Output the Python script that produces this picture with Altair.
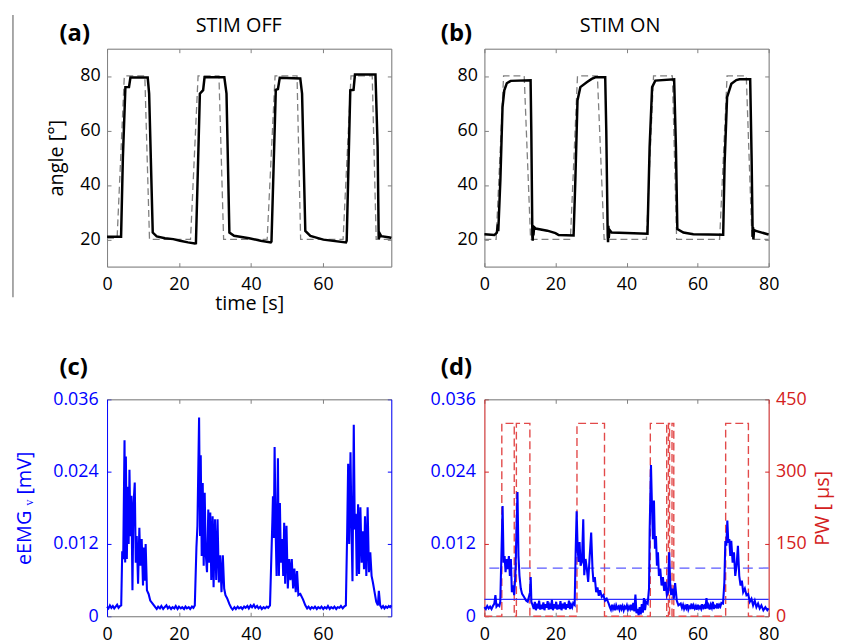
import altair as alt
import pandas as pd

FONT = "Open Sans"
GRAY = "#808080"
BLUE = "#0000ff"
RED = "#d42020"
PWRED = "#e24a4a"

# ---------------- (a) STIM OFF : joint angle ----------------
A_T = [0, 3.9, 4.4, 5.1, 6.1, 6.5, 11.3, 11.7, 12.7, 13.8, 16.1, 18.4, 20.3, 22.5, 24.4, 24.7,
       25.8, 26.7, 27.1, 32.6, 33.2, 34.0, 35.3, 39.5, 42.7, 45.5, 45.7, 46.9, 47.5, 48.0,
       53.7, 54.2, 55.1, 56.5, 60.1, 66.4, 66.6, 67.6, 68.5, 68.9, 74.6, 75.2, 75.5, 75.9,
       76.2, 78.6, 79.0]
A_ANG = [21.0, 21.0, 50.0, 75.9, 75.9, 79.4, 79.4, 73.5, 22.5, 21.1, 20.4, 20.1, 19.5, 18.9, 18.5, 18.6,
         73.5, 74.8, 79.5, 79.5, 73.5, 22.5, 21.3, 20.4, 19.5, 18.9, 19.2, 74.9, 75.2, 79.3,
         79.1, 73.5, 23.1, 21.3, 19.9, 18.9, 19.5, 74.7, 74.9, 80.5, 80.5, 54.0, 20.1, 21.9,
         21.2, 20.7, 20.5]
A_REF_T = [0, 2.8, 4.8, 10.5, 11.8, 23.2, 25.3, 31.1, 32.4, 44.5, 46.7, 52.8, 53.8, 65.6, 67.8,
           73.7, 74.8, 79.0]
A_REF = [20.5, 20.5, 80, 80, 20, 20, 80, 80, 20, 20, 80, 80, 20, 20, 80, 80, 20, 20]

# ---------------- (b) STIM ON : joint angle ----------------
B_T = [0, 2.8, 3.5, 3.8, 3.9, 4.0, 4.5, 5.1, 5.6, 6.3, 7.4, 13.0, 13.2, 13.5, 13.6, 13.7, 13.8,
       14.0, 14.4, 17.7, 20.0, 20.9, 25.1, 25.6, 26.2, 27.0, 28.8, 30.2, 31.2, 34.0, 34.3, 34.7,
       34.8, 34.9, 35.0, 35.2, 35.8, 40.0, 45.9, 46.5, 47.2, 48.1, 53.4, 53.9, 54.3, 56.0, 58.8,
       67.2, 67.6, 68.3, 69.5, 70.9, 71.8, 74.8, 75.2, 75.5, 75.6, 75.7, 75.9, 76.4, 79.7, 80.0]
B_ANG = [21.9, 21.6, 22.5, 25.5, 23.0, 26.0, 42.0, 68.6, 74.7, 77.3, 78.2, 78.4, 60.0, 21.0, 19.5,
         25.0, 21.5, 24.5, 24.0, 23.2, 22.3, 21.6, 21.4, 42.0, 71.0, 75.9, 77.7, 78.9, 79.5, 79.5,
         60.0, 21.5, 19.0, 25.0, 20.5, 23.5, 22.5, 22.3, 22.1, 54.0, 75.9, 78.3, 78.8, 54.0, 23.8,
         22.5, 21.9, 21.7, 48.0, 72.2, 77.1, 78.5, 78.8, 78.8, 50.0, 21.0, 24.5, 20.0, 23.5, 23.1,
         21.9, 21.8]
B_REF_T = [0, 3.3, 5.4, 11.2, 13.0, 24.2, 26.2, 31.8, 33.7, 45.6, 47.6, 52.9, 54.1, 66.2, 68.3,
           73.7, 75.3, 80.0]
B_REF = [20, 20, 80, 80, 20, 20, 80, 80, 20, 20, 80, 80, 20, 20, 80, 80, 20, 20]

# ---------------- (c) STIM OFF : eEMG_v ----------------
C_T = [0, 0.4, 0.8, 1.2, 1.6, 2.0, 2.4, 2.8, 3.2, 3.6, 3.94,
       4.22, 4.49, 4.86, 5.04, 5.23, 5.50, 5.78, 6.0, 6.23, 6.51, 6.78, 7.06, 7.33, 7.70, 7.98,
       8.25, 8.62, 8.98, 9.26, 9.63, 9.99, 10.18, 10.45, 10.73, 11.09, 11.55, 12.01, 12.93,
       13.4, 13.8, 14.2, 14.7, 15.1, 15.6, 16.0, 16.5, 16.9, 17.3, 17.8, 18.2, 18.7, 19.1, 19.6,
       20.0, 20.5, 20.9, 21.4, 21.8, 22.2, 22.7, 23.1, 23.6, 24.0, 24.39,
       24.84, 25.12, 25.58, 25.85, 26.04, 26.31, 26.59, 26.86, 27.14, 27.41, 27.78, 28.14, 28.42,
       28.69, 28.97, 29.34, 29.61, 29.98, 30.34, 30.71, 31.08, 31.44, 31.81, 32.18, 32.55, 32.91,
       33.37, 34.01,
       34.5, 34.9, 35.4, 35.8, 36.3, 36.7, 37.2, 37.6, 38.1, 38.5, 39.0, 39.4, 39.9, 40.3, 40.8,
       41.2, 41.7, 42.1, 42.6, 43.0, 43.5, 43.9, 44.4, 44.8, 45.29,
       45.93, 46.11, 46.35, 46.57, 46.85, 47.12, 47.49, 47.76, 48.04, 48.31, 48.68, 48.96, 49.23,
       49.50, 49.87, 50.24, 50.61, 50.97, 51.34, 51.71, 52.07, 52.44, 52.81, 53.17, 53.72, 54.46,
       55.10,
       55.6, 56.0, 56.5, 56.9, 57.4, 57.8, 58.3, 58.7, 59.2, 59.6, 60.1, 60.5, 61.0, 61.4, 61.9,
       62.3, 62.8, 63.2, 63.7, 64.1, 64.6, 65.0, 65.5, 65.9, 66.37,
       66.74, 67.01, 67.29, 67.66, 67.93, 68.21, 68.57, 68.85, 69.12, 69.40, 69.77, 70.04, 70.41,
       70.77, 71.14, 71.42, 71.69, 72.06, 72.42, 72.79, 73.16, 73.52, 73.89, 74.35, 74.81, 75.27,
       75.54, 75.91, 76.3, 76.7, 77.1, 77.5, 77.9, 78.3, 78.66, 79.0]
C_EMG = [0.0016, 0.0013, 0.0018, 0.0014, 0.0017, 0.0013, 0.0016, 0.0019, 0.0014, 0.0017, 0.0018,
         0.0108, 0.0095, 0.0292, 0.0089, 0.0265, 0.0095, 0.0215, 0.0120, 0.0243, 0.0133, 0.0200,
         0.0043, 0.0183, 0.0222, 0.0089, 0.0133, 0.0054, 0.0147, 0.0084, 0.0128, 0.0051, 0.0114,
         0.0059, 0.0120, 0.0043, 0.0037, 0.0026, 0.0019,
         0.0015, 0.0012, 0.0016, 0.0013, 0.0017, 0.0012, 0.0015, 0.0018, 0.0013, 0.0016, 0.0012,
         0.0015, 0.0013, 0.0017, 0.0012, 0.0016, 0.0013, 0.0015, 0.0012, 0.0016, 0.0013, 0.0015,
         0.0012, 0.0016, 0.0014, 0.0018,
         0.0114, 0.0150, 0.0330, 0.0133, 0.0267, 0.0100, 0.0221, 0.0084, 0.0205, 0.0106, 0.0073,
         0.0177, 0.0089, 0.0172, 0.0060, 0.0166, 0.0048, 0.0161, 0.0060, 0.0161, 0.0056, 0.0101,
         0.0040, 0.0101, 0.0046, 0.0035, 0.0030, 0.0020,
         0.0014, 0.0011, 0.0015, 0.0012, 0.0016, 0.0013, 0.0015, 0.0012, 0.0016, 0.0014, 0.0017,
         0.0013, 0.0018, 0.0015, 0.0019, 0.0014, 0.0017, 0.0013, 0.0016, 0.0012, 0.0015, 0.0013,
         0.0016, 0.0014, 0.0018,
         0.0155, 0.0199, 0.0130, 0.0281, 0.0144, 0.0067, 0.0262, 0.0067, 0.0188, 0.0089, 0.0128,
         0.0067, 0.0155, 0.0054, 0.0150, 0.0046, 0.0095, 0.0060, 0.0095, 0.0046, 0.0079, 0.0040,
         0.0075, 0.0035, 0.0037, 0.0028, 0.0018,
         0.0013, 0.0016, 0.0012, 0.0015, 0.0013, 0.0016, 0.0012, 0.0015, 0.0013, 0.0016, 0.0012,
         0.0015, 0.0013, 0.0017, 0.0012, 0.0015, 0.0013, 0.0016, 0.0012, 0.0015, 0.0014, 0.0017,
         0.0013, 0.0016, 0.0018,
         0.0141, 0.0253, 0.0120, 0.0272, 0.0150, 0.0058, 0.0318, 0.0144, 0.0170, 0.0067, 0.0186,
         0.0070, 0.0181, 0.0089, 0.0141, 0.0078, 0.0166, 0.0067, 0.0181, 0.0073, 0.0106, 0.0067,
         0.0056, 0.0040, 0.0024, 0.0018, 0.0042, 0.0018, 0.0014, 0.0017, 0.0013, 0.0016, 0.0014,
         0.0017, 0.0015, 0.0018]

# ---------------- (d) STIM ON : eEMG_v and stimulation pulse width ----------------
D_T = [0, 0.4, 0.8, 1.2, 1.6, 2.0, 2.4, 2.8, 3.1, 3.4, 3.8, 4.2,
       4.47, 4.85, 5.12, 5.40, 5.68, 5.96, 6.24, 6.52, 6.89, 7.17, 7.45, 7.73, 8.01, 8.38, 8.75,
       9.03, 9.31, 9.59, 9.87, 10.24, 10.61, 11.17, 11.73, 12.19, 12.84, 13.03, 13.22, 13.59,
       13.9, 14.2, 14.5, 14.8, 15.1, 15.4, 15.7, 16.0, 16.3, 16.6, 16.9, 17.2, 17.5, 17.8, 18.1,
       18.4, 18.7, 19.0, 19.3, 19.6, 19.9, 20.2, 20.5, 20.8, 21.1, 21.4, 21.7, 22.0, 22.3, 22.6,
       22.9, 23.2, 23.5, 23.8, 24.1, 24.4, 24.7, 25.0,
       25.40, 25.68, 25.96, 26.24, 26.52, 26.79, 27.07, 27.45, 27.82, 28.10, 28.47, 28.84, 29.21,
       29.58, 30.05, 30.42, 30.70, 31.07, 31.45, 31.82, 32.19, 32.56, 33.03, 33.49, 33.96, 34.42,
       34.98,
       35.3, 35.6, 35.9, 36.2, 36.5, 36.8, 37.1, 37.4, 37.7, 38.0, 38.3, 38.6, 38.9, 39.2, 39.5,
       39.8, 40.1, 40.4, 40.7, 41.0, 41.3, 41.6, 41.9, 42.2, 42.5, 42.8, 43.1, 43.4, 43.7, 44.0,
       44.3, 44.6, 44.9, 45.2, 45.5,
       45.95, 46.33, 46.51, 46.88, 47.16, 47.44, 47.72, 48.00, 48.28, 48.56, 48.84, 49.12, 49.49,
       49.86, 50.23, 50.60, 50.98, 51.35, 51.72, 52.00, 52.28, 52.56, 52.93, 53.30, 53.67, 54.14,
       54.60, 55.25,
       55.6, 55.9, 56.2, 56.5, 56.8, 57.1, 57.4, 57.7, 58.0, 58.3, 58.6, 58.9, 59.2, 59.5, 59.8,
       60.1, 60.4, 60.7, 61.0, 61.3, 61.6, 61.9, 62.2, 62.5, 62.8, 63.1, 63.4, 63.7, 64.0, 64.3,
       64.6, 64.9, 65.2, 65.5, 65.8, 66.1, 66.4, 66.7,
       67.16, 67.53, 67.81, 68.09, 68.37, 68.65, 68.93, 69.20, 69.48, 69.86, 70.23, 70.60, 70.97,
       71.35, 71.72, 72.09, 72.46, 72.83, 73.30, 73.76, 74.23, 74.69, 75.16, 75.62, 76.09, 76.55,
       77.02, 77.48, 77.95, 78.51, 79.07, 79.62, 80.0]
D_EMG = [0.0015, 0.0012, 0.0017, 0.0013, 0.0016, 0.0012, 0.0017, 0.0021, 0.0035, 0.0016, 0.0019,
         0.0017,
         0.0024, 0.0117, 0.0183, 0.0089, 0.0100, 0.0073, 0.0095, 0.0078, 0.0100, 0.0067, 0.0095,
         0.0040, 0.0051, 0.0035, 0.0073, 0.0144, 0.0206, 0.0100, 0.0067, 0.0046, 0.0037, 0.0032,
         0.0026, 0.0024, 0.0040, 0.0065, 0.0024, 0.0018,
         0.0012, 0.0024, 0.0010, 0.0021, 0.0013, 0.0026, 0.0011, 0.0019, 0.0012, 0.0023, 0.0010,
         0.0020, 0.0014, 0.0025, 0.0011, 0.0018, 0.0012, 0.0027, 0.0010, 0.0020, 0.0013, 0.0024,
         0.0011, 0.0019, 0.0012, 0.0025, 0.0010, 0.0021, 0.0013, 0.0023, 0.0011, 0.0020, 0.0014,
         0.0026, 0.0012, 0.0019, 0.0015, 0.0022,
         0.0019, 0.0106, 0.0174, 0.0112, 0.0090, 0.0123, 0.0084, 0.0090, 0.0161, 0.0068, 0.0095,
         0.0078, 0.0057, 0.0095, 0.0139, 0.0078, 0.0057, 0.0065, 0.0040, 0.0048, 0.0034, 0.0043,
         0.0032, 0.0035, 0.0026, 0.0029, 0.0021,
         0.0015, 0.0011, 0.0019, 0.0012, 0.0017, 0.0010, 0.0018, 0.0013, 0.0016, 0.0011, 0.0019,
         0.0012, 0.0017, 0.0010, 0.0016, 0.0013, 0.0018, 0.0011, 0.0016, 0.0012, 0.0019, 0.0010,
         0.0022, 0.0008, 0.0036, 0.0005, 0.0012, 0.0002, 0.0015, 0.0003, 0.0020, 0.0006, 0.0030,
         0.0010, 0.0024,
         0.0021, 0.0046, 0.0144, 0.0251, 0.0182, 0.0128, 0.0192, 0.0112, 0.0133, 0.0084, 0.0106,
         0.0067, 0.0079, 0.0051, 0.0065, 0.0042, 0.0057, 0.0035, 0.0040, 0.0106, 0.0056, 0.0035,
         0.0046, 0.0029, 0.0055, 0.0026, 0.0018, 0.0021,
         0.0014, 0.0019, 0.0012, 0.0017, 0.0013, 0.0020, 0.0011, 0.0016, 0.0014, 0.0021, 0.0012,
         0.0018, 0.0013, 0.0017, 0.0011, 0.0019, 0.0013, 0.0016, 0.0012, 0.0020, 0.0014, 0.0017,
         0.0012, 0.0030, 0.0013, 0.0018, 0.0011, 0.0019, 0.0014, 0.0024, 0.0012, 0.0017, 0.0015,
         0.0021, 0.0013, 0.0019, 0.0016, 0.0022,
         0.0021, 0.0056, 0.0125, 0.0117, 0.0159, 0.0122, 0.0128, 0.0100, 0.0125, 0.0089, 0.0106,
         0.0067, 0.0084, 0.0117, 0.0067, 0.0051, 0.0059, 0.0040, 0.0046, 0.0035, 0.0037, 0.0024,
         0.0029, 0.0018, 0.0026, 0.0015, 0.0021, 0.0013, 0.0018, 0.0010, 0.0015, 0.0010, 0.0013]
D_THRESH_DASHED = [0.0080]
D_THRESH_SOLID = [0.0028]
PW_T = [0, 4.9, 4.9, 8.4, 8.4, 9.0, 9.0, 12.8, 12.8, 26.05, 26.05, 33.8, 33.8, 46.7, 46.7, 51.3,
        51.3, 51.8, 51.8, 52.1, 52.1, 52.8, 52.8, 53.3, 53.3, 67.9, 67.9, 74.3, 74.3, 80.0]
PW_US = [0, 0, 400, 400, 0, 0, 400, 400, 0, 0, 400, 400, 0, 0, 400, 400,
         0, 0, 400, 400, 0, 0, 400, 400, 0, 0, 400, 400, 0, 0]


def frame(t, v):
    return pd.DataFrame({"t": t, "v": v, "i": list(range(len(t)))})


def txt(s, x, y, size, weight="normal", color="black", align="left"):
    return alt.Chart(pd.DataFrame({"s": [s]})).mark_text(
        font=FONT, fontSize=size, fontWeight=weight, color=color, align=align,
        baseline="alphabetic").encode(text="s:N", x=alt.value(x), y=alt.value(y))


W = 287
HA = 220
HC = 219
LBL = 18
TTL = 20
EMG_FMT = ".3~f"


def xaxis(vals, h, title=None, pad=9):
    return alt.Axis(orient="bottom", values=vals, domain=True, domainColor=GRAY, ticks=False,
                    tickSize=0, grid=True, gridColor=GRAY, gridDash=[4, h - 8, 4, 1000],
                    labelFont=FONT, labelFontSize=LBL, labelColor="black", labelPadding=pad,
                    labelFlush=False, title=title, titleFont=FONT, titleFontSize=TTL,
                    titleFontWeight="normal", titleColor="black", titlePadding=0)


def hidden_axis(orient, color):
    return alt.Axis(orient=orient, labels=False, ticks=False, grid=False, domain=True,
                    domainColor=color, title=None)


def angle_panel(t, ang, rt, ref, xmax, xvals, letter, letter_x, name, name_x, ytitle, xtitle, extra=None):
    xs = alt.Scale(domain=[0, xmax], nice=False, zero=False)
    ys = alt.Scale(domain=[10, 90], nice=False, zero=False)
    yax = alt.Axis(orient="left", values=[20, 40, 60, 80], domain=True, domainColor=GRAY,
                   ticks=False, tickSize=0, grid=True, gridColor=GRAY, gridDash=[4, W - 8, 4, 1000],
                   labelFont=FONT, labelFontSize=LBL, labelColor="black", labelPadding=7,
                   labelFlush=False, title=ytitle, titleFont=FONT, titleFontSize=TTL,
                   titleFontWeight="normal", titleColor="black", titlePadding=13)
    dashed = alt.Chart(frame(rt, ref)).mark_line(color=GRAY, strokeWidth=1.3, strokeDash=[7, 4]).encode(
        x=alt.X("t:Q", scale=xs, axis=hidden_axis("top", GRAY)),
        y=alt.Y("v:Q", scale=ys, axis=hidden_axis("right", GRAY)),
        order="i:Q")
    solid = alt.Chart(frame(t, ang)).mark_line(color="black", strokeWidth=2.5).encode(
        x=alt.X("t:Q", scale=xs, axis=xaxis(xvals, HA, xtitle)),
        y=alt.Y("v:Q", scale=ys, axis=yax),
        order="i:Q")
    layers = [dashed, solid,
              txt(letter, letter_x, -8, 24, "bold"),
              txt(name, name_x, -17, 20, "normal", align="center")]
    if extra is not None:
        layers.append(extra)
    return alt.layer(*layers).properties(width=W, height=HA)


sep = alt.Chart(pd.DataFrame({"s": [0]})).mark_rule(color="#8c8c8c", strokeWidth=1.5).encode(
    x=alt.value(-95), y=alt.value(-34), y2=alt.value(251))

panel_a = angle_panel(A_T, A_ANG, A_REF_T, A_REF, 79, [0, 20, 40, 60], "(a)", -48, "STIM OFF", 133,
                      "angle [°]", "time [s]", sep)
panel_b = angle_panel(B_T, B_ANG, B_REF_T, B_REF, 80, [0, 20, 40, 60, 80], "(b)", -44, "STIM ON", 137,
                      None, None)

# (c)
xs_c = alt.Scale(domain=[0, 79], nice=False, zero=False)
ys_emg = alt.Scale(domain=[0, 0.036], nice=False, zero=False)
emg_left_c = alt.Axis(orient="left", values=[0, 0.012, 0.024, 0.036], format=EMG_FMT, domain=True,
                      domainColor=BLUE, ticks=False, tickSize=0, grid=True, gridColor=BLUE,
                      gridDash=[4, W - 8, 4, 1000], labelFont=FONT, labelFontSize=LBL,
                      labelColor=BLUE, labelPadding=9, labelFlush=False, title="eEMG ᵥ [mV]",
                      titleFont=FONT, titleFontSize=TTL, titleFontWeight="normal", titleColor=BLUE,
                      titlePadding=18)
c_hidden = alt.Chart(frame(C_T, C_EMG)).mark_line(opacity=0).encode(
    x=alt.X("t:Q", scale=xs_c, axis=hidden_axis("top", GRAY)),
    y=alt.Y("v:Q", scale=ys_emg, axis=hidden_axis("right", BLUE)),
    order="i:Q")
c_line = alt.Chart(frame(C_T, C_EMG)).mark_line(color=BLUE, strokeWidth=2.1).encode(
    x=alt.X("t:Q", scale=xs_c, axis=xaxis([0, 20, 40, 60], HC, pad=9)),
    y=alt.Y("v:Q", scale=ys_emg, axis=emg_left_c),
    order="i:Q")
panel_c = alt.layer(c_hidden, c_line, txt("(c)", -48, -25, 24, "bold")).properties(width=W, height=HC)

# (d)
xs_d = alt.Scale(domain=[0, 80], nice=False, zero=False)
ys_pw = alt.Scale(domain=[0, 450], nice=False, zero=False)
pw_axis = alt.Axis(orient="right", values=[0, 150, 300, 450], domain=True, domainColor=RED,
                   ticks=False, tickSize=0, grid=True, gridColor=RED, gridDash=[4, W - 8, 4, 1000],
                   labelFont=FONT, labelFontSize=LBL, labelColor=RED, labelPadding=7,
                   labelFlush=False, title="PW [ µs]", titleFont=FONT, titleFontSize=TTL,
                   titleFontWeight="normal", titleColor=RED, titleAngle=270, titleBaseline="top",
                   titlePadding=7)
emg_left_d = alt.Axis(orient="left", values=[0, 0.012, 0.024, 0.036], format=EMG_FMT, domain=True,
                      domainColor=RED, ticks=False, tickSize=0, grid=False, labelFont=FONT,
                      labelFontSize=LBL, labelColor=BLUE, labelPadding=9, labelFlush=False, title=None)
pw_line = alt.Chart(frame(PW_T, PW_US)).mark_line(color=PWRED, strokeWidth=1.4, strokeDash=[8, 4]).encode(
    x=alt.X("t:Q", scale=xs_d, axis=hidden_axis("top", GRAY)),
    y=alt.Y("v:Q", scale=ys_pw, axis=pw_axis),
    order="i:Q")
thr_dash = alt.Chart(pd.DataFrame({"v": D_THRESH_DASHED})).mark_rule(
    color="#5a5aff", strokeWidth=1.3, strokeDash=[10, 6]).encode(
    y=alt.Y("v:Q", scale=ys_emg, axis=None))
thr_solid = alt.Chart(pd.DataFrame({"v": D_THRESH_SOLID})).mark_rule(
    color="#3030ff", strokeWidth=1.2).encode(
    y=alt.Y("v:Q", scale=ys_emg, axis=None))
d_line = alt.Chart(frame(D_T, D_EMG)).mark_line(color=BLUE, strokeWidth=2.1).encode(
    x=alt.X("t:Q", scale=xs_d, axis=xaxis([0, 20, 40, 60, 80], HC, pad=9)),
    y=alt.Y("v:Q", scale=ys_emg, axis=emg_left_d),
    order="i:Q")
panel_d = alt.layer(pw_line, thr_dash, thr_solid, d_line, txt("(d)", -44, -25, 24, "bold")).resolve_scale(
    y="independent").properties(width=W, height=HC)

chart = alt.concat(panel_a, panel_b, panel_c, panel_d, columns=2,
                   spacing=alt.RowColnumber(row=134, column=94), bounds="flush").properties(
    autosize=alt.AutoSizeParams(type="none"),
    padding={"left": 100, "top": 38, "right": 737, "bottom": 606}
).configure_view(stroke=None).configure(background="white")

chart.save("out.html", embed_options={"renderer": "svg", "actions": False})
